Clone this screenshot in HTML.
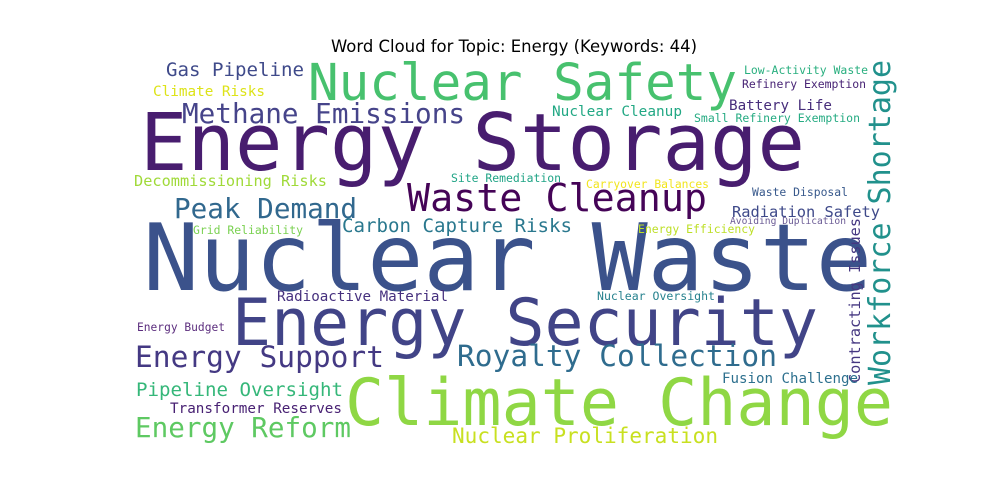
<!DOCTYPE html>
<html><head><meta charset="utf-8">
<style>
html,body{margin:0;padding:0;background:#fff;width:1000px;height:500px;overflow:hidden}
svg text{font-family:"DejaVu Sans Mono","Liberation Mono",monospace}
#title{font-family:"DejaVu Sans","Liberation Sans",sans-serif}
</style></head>
<body>
<svg id="cloud" width="1000" height="500" viewBox="0 0 1000 500">
<text id="title" x="331" y="52" font-size="16.5" textLength="366" lengthAdjust="spacingAndGlyphs" fill="#000">Word Cloud for Topic: Energy (Keywords: 44)</text>
</svg>
<script>
const words = ["Energy Storage","Nuclear Waste","Energy Security","Climate Change","Nuclear Safety","Waste Cleanup","Methane Emissions","Peak Demand","Energy Support","Royalty Collection","Energy Reform","Workforce Shortage","Contracting Issues","Carbon Capture Risks","Gas Pipeline","Pipeline Oversight","Nuclear Proliferation","Radiation Safety","Battery Life","Fusion Challenge","Climate Risks","Decommissioning Risks","Transformer Reserves","Radioactive Material","Nuclear Cleanup","Waste Disposal","Low-Activity Waste","Refinery Exemption","Small Refinery Exemption","Carryover Balances","Site Remediation","Energy Efficiency","Avoiding Duplication","Grid Reliability","Nuclear Oversight","Energy Budget"];
const xs = [140,143,232,345,308,407,182,174,135,457,135,890,860,342,166,136,452,732,729,722,153,134,170,277,552,752,744,742,694,586,451,638,730,193,597,137];
const ys = [170,290,345,425,100,211,123,218,367,366,437,385,383,232,76,396,443,217,110,383,96,186,413,301,116,196,74,88,122,188,182,233,224,234,300,331];
const widths = [665,729,586,548,429,300,283,183,249,320,216,325,165,230,138,207,266,148,103,136,112,193,172,171,130,96,124,124,166,123,110,117,116,110,118,88];
const sizes = [79,93,65,65,51,38,27.6,27.6,29.5,29.5,27.6,30,15.2,19,19,19,21,15.4,14.3,14.1,14.3,15.3,14.3,14.2,14.4,11.4,11.4,11.4,11.5,11.4,11.4,11.4,9.6,11.4,11.4,11.3];
const vertical = [0,0,0,0,0,0,0,0,0,0,0,1,1,0,0,0,0,0,0,0,0,0,0,0,0,0,0,0,0,0,0,0,0,0,0,0];
const colors = ["#481d6f","#3b528b","#414487","#8fd744","#47c16e","#450457","#46448a","#31688e","#443983","#2f6c8e","#5ec962","#21918c","#453781","#2a788e","#3f4a8a","#35b779","#c8e020","#3e4989","#472d7b","#2d708e","#dde318","#a0da39","#482173","#46307e","#22a884","#38598c","#29af7f","#482475","#25ab82","#f1e51d","#20a486","#bddf26","#6b5b95","#7ad151","#26828e","#5c2e7e"];
const svg = document.getElementById('cloud');
const NS = 'http://www.w3.org/2000/svg';
words.forEach((w,i)=>{
  const t = document.createElementNS(NS,'text');
  t.textContent = w;
  t.setAttribute('font-size', sizes[i]);
  t.setAttribute('fill', colors[i]);
  t.setAttribute('textLength', widths[i]);
  t.setAttribute('lengthAdjust','spacingAndGlyphs');
  if (vertical[i]) {
    t.setAttribute('x', 0); t.setAttribute('y', 0);
    t.setAttribute('transform', 'translate(' + xs[i] + ',' + ys[i] + ') rotate(-90)');
  } else {
    t.setAttribute('x', xs[i]); t.setAttribute('y', ys[i]);
  }
  
  
  svg.appendChild(t);
});
</script>
</body></html>
